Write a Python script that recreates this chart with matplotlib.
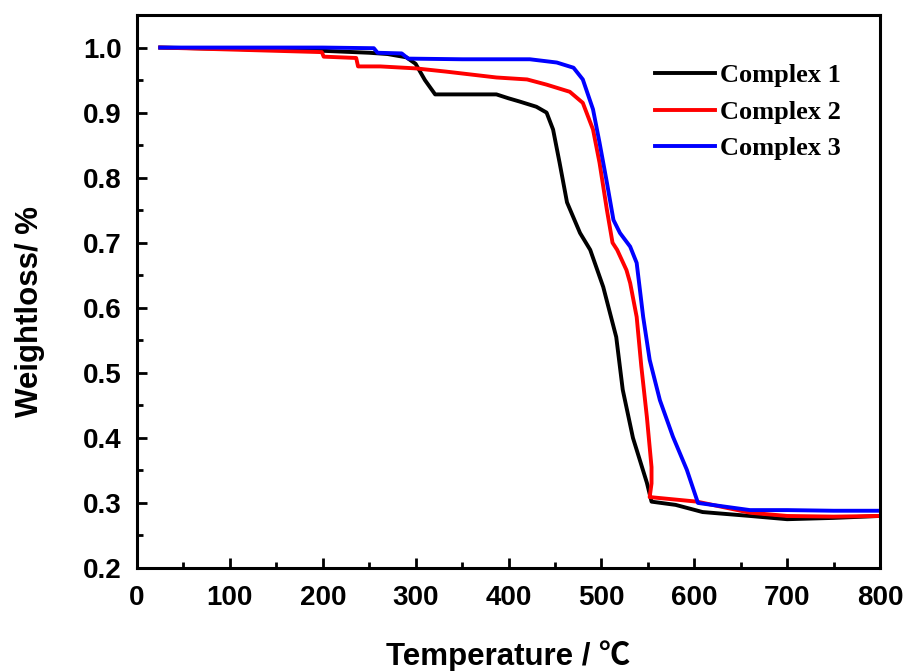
import numpy as np
import matplotlib.pyplot as plt

# Complex 1 (black)
t1 = [25, 100, 200, 250, 270, 290, 300, 310, 321, 350, 387, 400, 412, 430, 441, 448, 455, 463,
      477, 488, 502, 512, 516, 523, 534, 549, 554, 580, 609, 660, 700, 750, 800]
w1 = [1.0, 0.998, 0.995, 0.992, 0.99, 0.985, 0.975, 0.95, 0.928, 0.928, 0.928, 0.922, 0.917,
      0.909, 0.90, 0.874, 0.823, 0.762, 0.715, 0.689, 0.632, 0.577, 0.555, 0.474, 0.40, 0.331,
      0.302, 0.297, 0.286, 0.280, 0.275, 0.277, 0.280]

# Complex 2 (red)
t2 = [25, 100, 199, 201, 236, 238, 262, 300, 333, 387, 420, 441, 466, 480, 491, 498, 506,
      512, 517, 527, 531, 538, 543, 549, 554, 554, 552, 603, 660, 700, 750, 800]
w2 = [1.0, 0.997, 0.993, 0.986, 0.984, 0.971, 0.971, 0.968, 0.963, 0.954, 0.951, 0.943,
      0.932, 0.915, 0.874, 0.823, 0.75, 0.70, 0.689, 0.658, 0.638, 0.586, 0.51, 0.432, 0.355,
      0.33, 0.309, 0.302, 0.285, 0.280, 0.279, 0.280]

# Complex 3 (blue)
t3 = [25, 100, 200, 255, 259, 285, 292, 350, 423, 452, 470, 480, 491, 498, 506, 513, 520,
      531, 538, 545, 552, 563, 577, 592, 604, 660, 700, 750, 800]
w3 = [1.0, 1.0, 1.0, 0.999, 0.992, 0.991, 0.983, 0.982, 0.982, 0.977, 0.969, 0.951, 0.905,
      0.854, 0.792, 0.735, 0.715, 0.694, 0.669, 0.586, 0.52, 0.458, 0.402, 0.351, 0.30,
      0.289, 0.289, 0.288, 0.288]

plt.rcParams['font.family'] = ['Liberation Sans', 'Noto Sans CJK SC', 'DejaVu Sans']
plt.rcParams['font.weight'] = 'bold'

fig = plt.figure(figsize=(9.14, 6.71), dpi=100)
ax = fig.add_axes([0.1499, 0.1535, 0.8129, 0.8241])

ax.plot(t1, w1, color='black', lw=2.8, label='Complex 1')
ax.plot(t2, w2, color='#ff0000', lw=2.8, label='Complex 2')
ax.plot(t3, w3, color='#0000ff', lw=2.8, label='Complex 3')

ax.set_xlim(0, 800)
ax.set_ylim(0.2, 1.05)
ax.set_xticks(np.arange(0, 801, 100))
ax.set_xticks(np.arange(50, 800, 100), minor=True)
ax.set_yticks(np.arange(0.2, 1.01, 0.1))
ax.set_yticklabels([f'{v:.1f}' for v in np.arange(0.2, 1.01, 0.1)])
ax.set_yticks(np.arange(0.25, 1.05, 0.1), minor=True)
ax.tick_params(which='both', direction='in', width=2, labelsize=20, top=False, right=False)
ax.tick_params(which='major', length=7)
ax.tick_params(which='minor', length=4)
ax.tick_params(axis='x', pad=12)
ax.tick_params(axis='y', pad=11)
for s in ax.spines.values():
    s.set_linewidth(2.2)

ax.set_xlabel('Temperature / \u2103', fontsize=22.5, fontweight='bold', labelpad=21)
ax.set_ylabel('Weightloss/ %', fontsize=22.5, fontweight='bold', labelpad=27)
ax.yaxis.label.set_y(0.463)

ax.legend(loc='upper left', bbox_to_anchor=(0.697, 0.912), frameon=False,
          borderaxespad=0, borderpad=0,
          prop={'family': 'Liberation Serif', 'weight': 'bold', 'size': 19},
          handlelength=2.27, handletextpad=0.2, labelspacing=0.5)

fig.savefig('out.png', dpi=100)
